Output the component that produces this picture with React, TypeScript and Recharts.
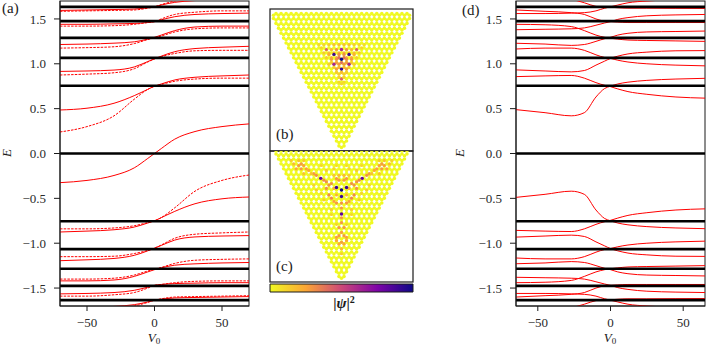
import React from "react";
import { LineChart, Line, XAxis, YAxis, ScatterChart, Scatter, BarChart, Bar } from "recharts";

const FONT = "Liberation Serif";
const INK = "#1a1a1a";

// ---------- panel (a): V0 samples and energies ----------
const xsA = [-70, -50, -30, -15, -5, 0, 5, 15, 30, 50, 70];
const soloA = [-0.325, -0.30, -0.245, -0.16, -0.055, 0, 0.055, 0.16, 0.245, 0.30, 0.33];
const solidA = [
  [0.485, 0.505, 0.56, 0.645, 0.715, 0.75, 0.775, 0.82, 0.85, 0.865, 0.875],
  [0.915, 0.92, 0.93, 0.965, 1.025, 1.055, 1.085, 1.135, 1.17, 1.185, 1.195],
  [1.215, 1.22, 1.23, 1.245, 1.275, 1.295, 1.32, 1.37, 1.41, 1.42, 1.42],
  [1.44, 1.44, 1.445, 1.45, 1.46, 1.47, 1.49, 1.525, 1.55, 1.56, 1.565],
  [1.595, 1.60, 1.605, 1.61, 1.625, 1.635, 1.655, 1.685, 1.705, 1.715, 1.72],
  [-0.875, -0.865, -0.85, -0.82, -0.775, -0.75, -0.715, -0.645, -0.56, -0.505, -0.485],
  [-1.195, -1.185, -1.17, -1.135, -1.085, -1.055, -1.025, -0.965, -0.93, -0.92, -0.915],
  [-1.42, -1.42, -1.41, -1.37, -1.32, -1.295, -1.275, -1.245, -1.23, -1.22, -1.215],
  [-1.565, -1.56, -1.55, -1.525, -1.49, -1.47, -1.46, -1.45, -1.445, -1.44, -1.44],
  [-1.72, -1.715, -1.705, -1.685, -1.655, -1.635, -1.625, -1.61, -1.605, -1.60, -1.595],
];
const dashedA = [
  [0.24, 0.30, 0.42, 0.605, 0.715, 0.75, 0.77, 0.805, 0.83, 0.84, 0.84],
  [0.875, 0.885, 0.90, 0.945, 1.02, 1.055, 1.08, 1.115, 1.145, 1.15, 1.15],
  [1.175, 1.18, 1.19, 1.225, 1.27, 1.29, 1.31, 1.355, 1.39, 1.40, 1.40],
  [1.42, 1.42, 1.425, 1.44, 1.46, 1.47, 1.50, 1.55, 1.575, 1.59, 1.59],
  [1.585, 1.59, 1.595, 1.60, 1.62, 1.635, 1.66, 1.70, 1.74, 1.75, 1.76],
  [-0.84, -0.84, -0.83, -0.805, -0.77, -0.75, -0.715, -0.605, -0.42, -0.30, -0.24],
  [-1.15, -1.15, -1.145, -1.115, -1.08, -1.055, -1.02, -0.945, -0.90, -0.885, -0.875],
  [-1.40, -1.40, -1.39, -1.355, -1.31, -1.29, -1.27, -1.225, -1.19, -1.18, -1.175],
  [-1.59, -1.59, -1.575, -1.55, -1.50, -1.47, -1.46, -1.44, -1.425, -1.42, -1.42],
  [-1.76, -1.75, -1.74, -1.70, -1.66, -1.635, -1.62, -1.60, -1.595, -1.59, -1.585],
];

// ---------- panel (d) ----------
const xsD = [-65, -45, -27, -18, -10, -4, 0, 5, 12, 25, 45, 65];
const curvesDUp = [
  [0.489, 0.455, 0.42, 0.455, 0.63, 0.725, 0.75, 0.775, 0.795, 0.815, 0.83, 0.838],
  [0.857, 0.865, 0.87, 0.84, 0.79, 0.76, 0.745, 0.72, 0.69, 0.66, 0.63, 0.617],
  [0.932, 0.92, 0.91, 0.925, 0.985, 1.03, 1.06, 1.085, 1.11, 1.13, 1.145, 1.147],
  [1.165, 1.175, 1.175, 1.15, 1.10, 1.07, 1.06, 1.04, 1.02, 1.0, 0.985, 0.977],
  [1.229, 1.22, 1.205, 1.215, 1.25, 1.28, 1.295, 1.32, 1.34, 1.355, 1.36, 1.365],
  [1.44, 1.435, 1.415, 1.37, 1.32, 1.295, 1.285, 1.275, 1.265, 1.26, 1.255, 1.25],
  [1.38, 1.385, 1.39, 1.40, 1.43, 1.455, 1.47, 1.495, 1.515, 1.535, 1.545, 1.55],
  [1.60, 1.585, 1.57, 1.55, 1.50, 1.475, 1.47, 1.465, 1.46, 1.46, 1.46, 1.46],
  [1.56, 1.56, 1.565, 1.57, 1.59, 1.62, 1.635, 1.655, 1.68, 1.70, 1.715, 1.72],
  [1.78, 1.77, 1.72, 1.68, 1.64, 1.63, 1.63, 1.625, 1.62, 1.62, 1.618, 1.617],
];
const curvesDDown = [
  [-0.489, -0.455, -0.42, -0.455, -0.63, -0.725, -0.75, -0.775, -0.795, -0.815, -0.83, -0.838],
  [-0.857, -0.865, -0.87, -0.84, -0.79, -0.76, -0.745, -0.72, -0.69, -0.66, -0.63, -0.617],
  [-0.932, -0.92, -0.91, -0.925, -0.985, -1.03, -1.06, -1.085, -1.11, -1.13, -1.145, -1.147],
  [-1.165, -1.175, -1.175, -1.15, -1.10, -1.07, -1.06, -1.04, -1.02, -1.0, -0.985, -0.977],
  [-1.229, -1.22, -1.205, -1.215, -1.25, -1.28, -1.295, -1.32, -1.34, -1.355, -1.36, -1.365],
  [-1.44, -1.435, -1.415, -1.37, -1.32, -1.295, -1.285, -1.275, -1.265, -1.26, -1.255, -1.25],
  [-1.38, -1.385, -1.39, -1.40, -1.43, -1.455, -1.47, -1.495, -1.515, -1.535, -1.545, -1.55],
  [-1.60, -1.585, -1.57, -1.55, -1.50, -1.475, -1.47, -1.465, -1.46, -1.46, -1.46, -1.46],
  [-1.56, -1.56, -1.565, -1.57, -1.59, -1.62, -1.635, -1.655, -1.68, -1.70, -1.715, -1.72],
  [-1.78, -1.77, -1.72, -1.68, -1.64, -1.63, -1.63, -1.625, -1.62, -1.62, -1.618, -1.617],
];

const levels = [1.635, 1.475, 1.29, 1.065, 0.755, 0, -0.755, -1.065, -1.285, -1.475, -1.635];
const yTicks = [-1.5, -1, -0.5, 0, 0.5, 1, 1.5];
const xTicks = [-50, 0, 50];

// ---------- panels (b), (c): site intensities [x offset (mirrored), row, |psi|^2] ----------
const ROWS = 27;
const APEX_ROW = -18;
const hotB = [
  [4.5, 3, 0.08], [3.5, 3, 0.1], [2.5, 3, 0.12], [1.5, 3, 0.16], [0.5, 3, 0.16],
  [4, 2.33, 0.1], [3, 2, 0.42], [2, 2, 0.2], [1, 2, 0.3], [3.5, 1.33, 0.14], [2.5, 1.33, 0.16], [1.5, 1.33, 0.2], [0.5, 1.33, 0.22],
  [2.5, 1, 0.22], [3, 0.33, 0.12], [2, 0.33, 0.22], [1, 0.33, 0.22],
  [2, 0, 0.28], [1, 0, 0.32], [0.5, 1, 0.32], [0.5, 0.33, 0.4], [0, -0.67, 0.4], [0.5, -1, 0.3], [1, -0.67, 0.28],
  [2, -0.67, 0.16], [2.5, -1, 0.12], [0.5, -1.67, 0.22], [1.5, -1.67, 0.14], [1, -2, 0.28], [0, -2.67, 0.2], [1, -2.67, 0.14],
  [0.5, -3, 0.14], [0, -4, 0.42], [0.5, -3.67, 0.12], [0.5, -4.67, 0.1], [0, -5, 0.1],
];
const darkB = [
  [0, 2, 0.62], [1.5, -1, 0.62], [0, -2, 0.9], [1.5, 1, 0.9], [0, 0, 1],
];
const hotC = [
  [2, 1.33, 0.3], [1, 2.33, 0.28], [0.5, 2, 0.28], [2.5, 1, 0.3], [3, 0.33, 0.3], [2.5, -1, 0.32], [2, -1.67, 0.32], [1, -2.67, 0.28], [0, -2.67, 0.3], [1.5, -2.33, 0.25],
  [1.5, 0.33, 0.22], [1, -1, 0.2], [0.5, 3, 0.18], [1.5, 3, 0.14],
  [3, 1.67, 0.3], [3.5, 2, 0.32], [5, 3, 0.3], [5.5, 3.33, 0.28], [6.5, 4, 0.24], [7, 4.33, 0.26], [7.5, 5, 0.26], [8, 5.33, 0.28], [8.5, 5, 0.28], [9, 4.33, 0.24], [8, 4.33, 0.28], [9.5, 5.33, 0.18], [7.5, 3.33, 0.16], [7.5, 6, 0.14], [8.5, 6, 0.16], [10, 6, 0.12], [6, 3.33, 0.16],
  [0, -3.67, 0.28], [0, -5.67, 0.28], [0, -6.67, 0.28], [0.5, -7.67, 0.28], [0, -8.67, 0.26], [0.5, -9.33, 0.28], [1, -9.67, 0.26], [1, -10.33, 0.24], [0, -10.67, 0.28], [0.5, -11, 0.24], [0, -12, 0.18], [0, -13, 0.12],
  [5, 0, 0.12], [4, -0.67, 0.1], [2, -4, 0.12], [2, -5, 0.1], [3, 4, 0.12], [4, 5, 0.1], [1, 5, 0.08], [1, -7, 0.1], [3.5, -2, 0.12], [5.5, 1, 0.1], [1.5, 4.33, 0.1],
];
const darkC = [
  [4.12, 2.38, 0.8], [0, -4.9, 0.82], [1, 0.5, 0.9], [0, -1.33, 0.9], [0, 0, 1],
];

const colorStops: [number, string][] = [
  [0, "#f0f921"], [0.25, "#fca636"], [0.5, "#cc4778"], [0.75, "#7e03a8"], [1, "#0d0887"],
];

const hex = (s: string, i: number) => parseInt(s.slice(1 + i * 2, 3 + i * 2), 16);
function tone(v: number) {
  for (let k = 1; k < colorStops.length; k++) {
    const [a, ca] = colorStops[k - 1];
    const [b, cb] = colorStops[k];
    if (v <= b) {
      const t = (v - a) / (b - a);
      const c = [0, 1, 2].map((i) => Math.round(hex(ca, i) + (hex(cb, i) - hex(ca, i)) * t));
      return `rgb(${c.join(",")})`;
    }
  }
  return colorStops[colorStops.length - 1][1];
}

// honeycomb lattice of the triangular flake
function buildSites() {
  const seen = new Map<string, { x: number; y: number; v: number }>();
  const add = (x: number, y: number) => {
    const key = `${Math.round(x * 2)}_${Math.round(y * 3)}`;
    if (!seen.has(key)) seen.set(key, { x, y, v: 0 });
  };
  for (let r = 0; r < ROWS; r++) {
    const y = APEX_ROW + 2 / 3 + r;
    for (let j = 0; j <= r; j++) {
      const x = j - r / 2;
      add(x, y + 2 / 3);
      add(x, y - 2 / 3);
      add(x - 0.5, y + 1 / 3);
      add(x + 0.5, y + 1 / 3);
      add(x - 0.5, y - 1 / 3);
      add(x + 0.5, y - 1 / 3);
    }
  }
  return Array.from(seen.values());
}
const sites = buildSites();

const mirrored = (rows: number[][]) =>
  rows.flatMap(([x, y, v]) =>
    x === 0 ? [{ x, y, v }] : [{ x: -x, y, v }, { x, y, v }]
  );

const toPts = (xs: number[], ys: number[]) => xs.map((x, i) => ({ x, y: ys[i] }));

const tickStyle = { fontFamily: FONT, fontSize: 13, fill: "#2a2a2a" };
const fmtY = (v: number) => (v < 0 ? "\u2212" : "") + Math.abs(v).toFixed(1);
const fmtX = (v: number) => (v < 0 ? "\u2212" : "") + Math.abs(v);

function Energy({
  lim, left, width, plotLeft, plotRight, solid, dashed, name, nameX, nameY, eX, v0X,
}: {
  lim: number; left: number; width: number; plotLeft: number; plotRight: number;
  solid: { x: number; y: number }[][]; dashed: { x: number; y: number }[][];
  name: string; nameX: number; nameY: number; eX: number; v0X: number;
}) {
  return (
    <div style={{ position: "absolute", left, top: 0 }}>
      <LineChart
        width={width}
        height={346}
        margin={{ top: 1, right: plotRight, bottom: 0, left: plotLeft - 60 }}
      >
        <XAxis
          xAxisId="b" type="number" dataKey="x" domain={[-lim, lim]} ticks={xTicks} height={40}
          allowDataOverflow tick={tickStyle} tickFormatter={fmtX} tickSize={5} tickMargin={7}
          stroke={INK} interval={0}
        />
        <YAxis
          yAxisId="l" type="number" dataKey="y" domain={[-1.7, 1.7]} ticks={yTicks} width={60}
          allowDataOverflow tick={tickStyle} tickFormatter={fmtY} tickSize={6} tickMargin={8}
          stroke={INK} interval={0}
        />
        {solid.map((pts, i) => (
          <Line key={`s${i}`} xAxisId="b" yAxisId="l" data={pts} dataKey="y" type="monotone" stroke="#ff0000" strokeWidth={1} dot={false} isAnimationActive={false} />
        ))}
        {dashed.map((pts, i) => (
          <Line key={`d${i}`} xAxisId="b" yAxisId="l" data={pts} dataKey="y" type="monotone" stroke="#ff0000" strokeWidth={1} strokeDasharray="2.5 1.2" dot={false} isAnimationActive={false} />
        ))}
        {levels.map((l) => (
          <Line key={`l${l}`} xAxisId="b" yAxisId="l" data={[{ x: -lim, y: l }, { x: lim, y: l }]} dataKey="y" stroke="#000" strokeWidth={2.7} dot={false} isAnimationActive={false} />
        ))}
        <rect x={plotLeft} y={1} width={width - plotLeft - plotRight} height={305} fill="none" stroke={INK} strokeWidth={1} />
        <text x={nameX} y={nameY} fontFamily={FONT} fontSize={15} fill={INK}>{name}</text>
        <text transform={`translate(${eX},153) rotate(-90)`} textAnchor="middle" fontFamily={FONT} fontStyle="italic" fontSize={13} fill={INK}>E</text>
        <text x={v0X} y={342} textAnchor="middle" fontFamily={FONT} fontSize={13} fill={INK}>
          <tspan fontStyle="italic">V</tspan>
          <tspan fontSize={9} dy={2}>0</tspan>
        </text>
      </LineChart>
    </div>
  );
}

const dotShape = (r: number) => (p: any) =>
  <circle cx={p.cx} cy={p.cy} r={r} fill={tone(p.payload.v)} />;

function Flake({
  top, height, yDomain, hot, dark, name, nameY,
}: {
  top: number; height: number; yDomain: number[]; hot: number[][]; dark: number[][]; name: string; nameY: number;
}) {
  return (
    <div style={{ position: "absolute", left: 269, top }}>
      <ScatterChart width={145} height={height} margin={{ top: 1, right: 1, bottom: 1, left: 1 }}>
        <XAxis type="number" dataKey="x" domain={[-14.2, 14.2]} allowDataOverflow height={0} tick={false} tickLine={false} axisLine={false} />
        <YAxis type="number" dataKey="y" domain={yDomain} allowDataOverflow width={0} tick={false} tickLine={false} axisLine={false} />
        <Scatter data={sites} shape={dotShape(1.8)} isAnimationActive={false} />
        <Scatter data={mirrored(hot)} shape={dotShape(1.6)} isAnimationActive={false} />
        <Scatter data={mirrored(dark)} shape={dotShape(1.7)} isAnimationActive={false} />
        <rect x={1} y={1} width={143} height={height - 2} fill="none" stroke={INK} strokeWidth={1.2} />
        <text x={7} y={nameY} fontFamily={FONT} fontSize={15} fill={INK}>{name}</text>
      </ScatterChart>
    </div>
  );
}

function ColorBar() {
  return (
    <div style={{ position: "absolute", left: 269, top: 283 }}>
      <BarChart width={145} height={32} layout="vertical" data={[{ name: "psi", v: 1 }]} barCategoryGap={0} margin={{ top: 1, right: 1, bottom: 23, left: 1 }}>
        <defs>
          <linearGradient id="cbar" x1="0" y1="0" x2="1" y2="0">
            {colorStops.map(([o, c]) => (
              <stop key={o} offset={o} stopColor={c} />
            ))}
          </linearGradient>
        </defs>
        <XAxis type="number" domain={[0, 1]} hide />
        <YAxis type="category" dataKey="name" hide />
        <Bar dataKey="v" fill="url(#cbar)" stroke={INK} strokeWidth={1} isAnimationActive={false} />
        <text x={75} y={25} textAnchor="middle" fontFamily={FONT} fontSize={15} fontWeight="bold" fill={INK}>
          <tspan>|</tspan>
          <tspan fontStyle="italic">ψ</tspan>
          <tspan>|</tspan>
          <tspan fontSize={10} dy={-5}>2</tspan>
        </text>
      </BarChart>
    </div>
  );
}

export default function App() {
  const solidPanelA = [soloA, ...solidA].map((ys) => toPts(xsA, ys));
  const dashedPanelA = dashedA.map((ys) => toPts(xsA, ys));
  const panelD = [
    ...curvesDUp.map((ys) => toPts(xsD, ys)),
    ...curvesDDown.map((ys) => toPts(xsD, ys)),
  ];
  return (
    <div style={{ position: "absolute", left: 0, top: 0, width: 706, height: 346, overflow: "hidden", background: "#fff" }}>
      <Energy lim={70} left={0} width={255} plotLeft={60} plotRight={6} solid={solidPanelA} dashed={dashedPanelA} name="(a)" nameX={2} nameY={13} eX={11} v0X={154} />
      <Flake top={8} height={144} yDomain={[-18.71, 10.27]} hot={hotB} dark={darkB} name="(b)" nameY={131} />
      <Flake top={150} height={133} yDomain={[-18.78, 7.96]} hot={hotC} dark={darkC} name="(c)" nameY={121} />
      <ColorBar />
      <Energy lim={65} left={446} width={260} plotLeft={70} plotRight={1} solid={panelD} dashed={[]} name="(d)" nameX={16} nameY={15} eX={18} v0X={164} />
    </div>
  );
}
